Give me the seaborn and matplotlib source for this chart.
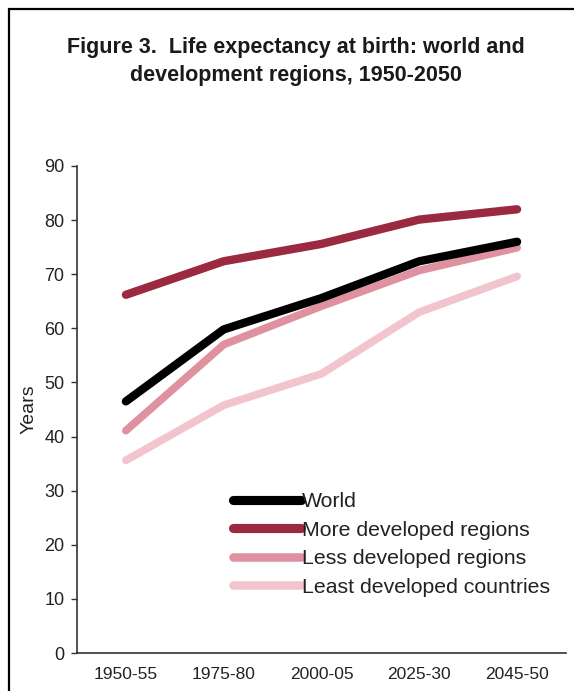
import matplotlib
matplotlib.use("Agg")
import matplotlib.pyplot as plt
import seaborn as sns
import pandas as pd
from matplotlib.patches import Rectangle

periods = ["1950-55", "1975-80", "2000-05", "2025-30", "2045-50"]
world = [46.5, 59.8, 65.6, 72.4, 76.0]
more_developed = [66.2, 72.4, 75.6, 80.1, 82.0]
less_developed = [41.1, 57.0, 64.1, 70.7, 74.9]
least_developed = [35.6, 45.8, 51.6, 63.0, 69.6]
series_names = ["World", "More developed regions", "Less developed regions", "Least developed countries"]
colors = ["#000000", "#9B2A40", "#E0919F", "#F2C5CE"]
widths = [6.0, 6.0, 5.6, 5.6]

rows = []
for name, vals in zip(series_names, [world, more_developed, less_developed, least_developed]):
    for p, v in zip(periods, vals):
        rows.append({"period": p, "value": v, "series": name})
df = pd.DataFrame(rows)

sns.set_style("ticks")
plt.rcParams["font.family"] = ["Liberation Sans", "DejaVu Sans"]

W, H = 574, 691
fig = plt.figure(figsize=(W / 100, H / 100), dpi=100)
ax = fig.add_axes([77 / W, 1 - 653 / H, (566 - 77) / W, (653 - 166) / H])

sns.lineplot(data=df, x="period", y="value", hue="series", hue_order=series_names,
             palette=colors, sort=False, ax=ax, legend=False)

zorders = [5, 4, 3, 2]
for line, lw, z in zip(ax.lines, widths, zorders):
    line.set_linewidth(lw)
    line.set_solid_capstyle("round")
    line.set_solid_joinstyle("round")
    line.set_zorder(z)

ax.set_xlim(-0.5, 4.5)
ax.set_ylim(0, 90)
ax.set_yticks(range(0, 91, 10))
ax.set_xlabel("")
ax.set_ylabel("Years", fontsize=14, color="#222222", labelpad=5)
ax.tick_params(axis="y", labelsize=13, length=4, width=1, colors="#333333", labelcolor="#222222", pad=5)
ax.tick_params(axis="x", labelsize=12.5, length=0, labelcolor="#222222", pad=10)
for s in ["top", "right"]:
    ax.spines[s].set_visible(False)
for s in ["left", "bottom"]:
    ax.spines[s].set_color("#333333")
    ax.spines[s].set_linewidth(1.2)

leg = ax.legend(handles=ax.lines, labels=series_names, loc="upper left",
                bbox_to_anchor=(233 / W, 1 - 492 / H), bbox_transform=fig.transFigure,
                frameon=False, fontsize=15.3, handlelength=3.2, handletextpad=0.05,
                labelspacing=0.45, borderpad=0, borderaxespad=0)
for h, lw in zip(leg.get_lines(), widths):
    h.set_linewidth(lw * 1.1)
    h.set_solid_capstyle("round")
for t in leg.get_texts():
    t.set_color("#222222")

fig.text(296 / W, 1 - 47 / H, "Figure 3.  Life expectancy at birth: world and",
         ha="center", va="center", fontsize=15.5, fontweight="bold", color="#1a1a1a")
fig.text(296 / W, 1 - 75 / H, "development regions, 1950-2050",
         ha="center", va="center", fontsize=15.5, fontweight="bold", color="#1a1a1a")

fig.add_artist(Rectangle((8.5 / W, -0.1), 2, 1 - 9 / H + 0.1, transform=fig.transFigure,
                         fill=False, lw=1.6, edgecolor="black"))

fig.savefig("out.png", dpi=100)
